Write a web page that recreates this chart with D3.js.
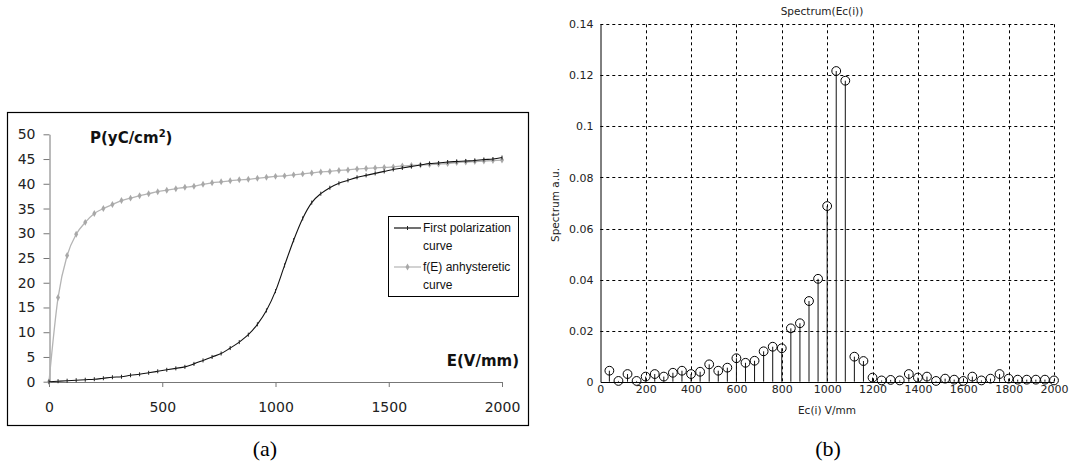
<!DOCTYPE html>
<html>
<head>
<meta charset="utf-8">
<script src="https://cdn.jsdelivr.net/npm/d3@7"></script>
<style>
  html, body { margin: 0; padding: 0; background: #fff; }
  svg { display: block; }
</style>
</head>
<body>
<svg id="chart" width="1070" height="475"></svg>
<script>
// ---------- Data: panel (a) ----------
const fieldE = [0,40,80,120,160,200,240,280,320,360,400,440,480,520,560,600,640,680,720,760,800,840,880,920,960,1000,1040,1080,1120,1160,1200,1240,1280,1320,1360,1400,1440,1480,1520,1560,1600,1640,1680,1720,1760,1800,1840,1880,1920,1960,2000];
const firstPolarization = [0,0.1,0.2,0.3,0.4,0.5,0.7,0.9,1.0,1.3,1.5,1.8,2.1,2.4,2.7,3.0,3.6,4.3,5.0,5.7,6.8,8.0,9.5,11.6,14.4,18.3,23.5,28.6,33.0,36.2,38.0,39.2,40.1,40.7,41.3,41.7,42.1,42.5,42.9,43.2,43.5,43.8,44.1,44.2,44.4,44.5,44.6,44.7,44.9,45.0,45.3];
const anhysteretic = [0,17.0,25.5,29.8,32.2,34.0,35.0,35.8,36.6,37.1,37.6,38.0,38.4,38.7,39.0,39.3,39.5,39.9,40.2,40.4,40.6,40.8,40.9,41.1,41.3,41.5,41.6,41.8,42.0,42.2,42.4,42.5,42.7,42.8,43.0,43.1,43.2,43.3,43.4,43.6,43.7,43.8,43.9,44.0,44.1,44.3,44.4,44.5,44.6,44.7,44.8];
const aXTicks = [0,500,1000,1500,2000];
const aYTicks = [0,5,10,15,20,25,30,35,40,45,50];
const legendLabels = [["First polarization","curve"],["f(E) anhysteretic","curve"]];

// ---------- Data: panel (b) ----------
const ecValues = [40,80,120,160,200,240,280,320,360,400,440,480,520,560,600,640,680,720,760,800,840,880,920,960,1000,1040,1080,1120,1160,1200,1240,1280,1320,1360,1400,1440,1480,1520,1560,1600,1640,1680,1720,1760,1800,1840,1880,1920,1960,2000];
const spectrum = [0.0043,0.0003,0.003,0.0003,0.002,0.003,0.002,0.0035,0.0043,0.003,0.0039,0.0068,0.0043,0.0055,0.0092,0.0074,0.0082,0.0119,0.0137,0.0131,0.0209,0.0229,0.0316,0.0403,0.0688,0.1217,0.1179,0.0098,0.0081,0.0016,0.0005,0.0007,0.0005,0.003,0.0016,0.002,0.0003,0.0012,0.0008,0.0003,0.002,0.0005,0.0012,0.003,0.0012,0.0008,0.0008,0.0008,0.0008,0.0005];
const bXTicks = [0,200,400,600,800,1000,1200,1400,1600,1800,2000];
const bYTicks = [0,0.02,0.04,0.06,0.08,0.1,0.12,0.14];

const svg = d3.select("#chart");

// ================= Panel (a) =================
const gA = svg.append("g");
gA.append("rect").attr("x", 7.5).attr("y", 112.5).attr("width", 521).attr("height", 313)
  .attr("fill", "#fff").attr("stroke", "#000").attr("stroke-width", 1.2);

const xA = d3.scaleLinear().domain([0, 2000]).range([49, 502]);
const yA = d3.scaleLinear().domain([0, 50]).range([381.7, 134.3]);

const axA_y = gA.append("g").attr("transform", "translate(49.5,0)")
  .call(d3.axisLeft(yA).tickValues(aYTicks).tickSize(6).tickSizeOuter(0).tickPadding(8).tickFormat(d3.format("d")));
const axA_x = gA.append("g").attr("transform", "translate(0,382)")
  .call(d3.axisBottom(xA).tickValues(aXTicks).tickSize(5).tickSizeOuter(0).tickPadding(15).tickFormat(d3.format("d")));
[axA_y, axA_x].forEach(ax => {
  ax.select(".domain").attr("stroke", "#777");
  ax.selectAll(".tick line").attr("stroke", "#777");
  ax.selectAll("text").attr("font-family", "DejaVu Sans").attr("font-size", 14).attr("fill", "#222");
});

const lineA = d3.line().x((d, i) => xA(fieldE[i])).y(d => yA(d)).curve(d3.curveMonotoneX);

// anhysteretic (grey)
gA.append("path").datum(anhysteretic).attr("d", lineA)
  .attr("fill", "none").attr("stroke", "#b4b4b4").attr("stroke-width", 1.3);
gA.selectAll(".dia").data(anhysteretic).join("path").attr("class", "dia")
  .attr("d", d3.symbol(d3.symbolDiamond, 14))
  .attr("transform", (d, i) => `translate(${xA(fieldE[i])},${yA(d)})`)
  .attr("fill", "#a8a8a8");

// first polarization (black)
gA.append("path").datum(firstPolarization).attr("d", lineA)
  .attr("fill", "none").attr("stroke", "#111").attr("stroke-width", 1.1);
gA.selectAll(".tk").data(firstPolarization).join("line").attr("class", "tk")
  .attr("x1", (d, i) => xA(fieldE[i])).attr("x2", (d, i) => xA(fieldE[i]))
  .attr("y1", d => yA(d) - 2).attr("y2", d => yA(d) + 2)
  .attr("stroke", "#222").attr("stroke-width", 1);

// axis titles
const ptitle = gA.append("text").attr("x", 90).attr("y", 143)
  .attr("font-family", "DejaVu Sans").attr("font-weight", "bold").attr("font-size", 15).attr("fill", "#111");
ptitle.append("tspan").text("P(yC/cm");
ptitle.append("tspan").attr("font-size", 10).attr("dy", -6).text("2");
ptitle.append("tspan").attr("dy", 6).text(")");
gA.append("text").attr("x", 519).attr("y", 366).attr("text-anchor", "end")
  .attr("font-family", "DejaVu Sans").attr("font-weight", "bold").attr("font-size", 15).attr("fill", "#111")
  .text("E(V/mm)");

// legend
const lg = gA.append("g");
lg.append("rect").attr("x", 388.5).attr("y", 216.5).attr("width", 130).attr("height", 80)
  .attr("fill", "#fff").attr("stroke", "#000").attr("stroke-width", 1);
const legendColors = ["#111", "#b4b4b4"];
const legendY = [228, 267];
legendLabels.forEach((lab, i) => {
  lg.append("line").attr("x1", 394).attr("x2", 421).attr("y1", legendY[i]).attr("y2", legendY[i])
    .attr("stroke", legendColors[i]).attr("stroke-width", 1.2);
  if (i === 0) {
    lg.append("line").attr("x1", 407.5).attr("x2", 407.5).attr("y1", legendY[i] - 2).attr("y2", legendY[i] + 2)
      .attr("stroke", "#222");
  } else {
    lg.append("path").attr("d", d3.symbol(d3.symbolDiamond, 14)).attr("transform", `translate(407.5,${legendY[i]})`)
      .attr("fill", "#a8a8a8");
  }
  lab.forEach((t, j) => {
    lg.append("text").attr("x", 423).attr("y", legendY[i] + j * 18).attr("dy", "0.35em")
      .attr("font-family", "Liberation Sans").attr("font-size", 12).attr("fill", "#111").text(t);
  });
});

// caption (a)
svg.append("text").attr("x", 265).attr("y", 448).attr("dy", "0.35em").attr("text-anchor", "middle")
  .attr("font-family", "Liberation Serif").attr("font-size", 22).attr("fill", "#000").text("(a)");

// ================= Panel (b) =================
const gB = svg.append("g");
const xB = d3.scaleLinear().domain([0, 2000]).range([600.3, 1054]);
const yB = d3.scaleLinear().domain([0, 0.14]).range([381.7, 24.3]);

// grid
gB.selectAll(".vg").data(bXTicks.filter(d => d > 0)).join("line").attr("class", "vg")
  .attr("x1", d => Math.round(xB(d)) + 0.5).attr("x2", d => Math.round(xB(d)) + 0.5)
  .attr("y1", yB(0.14)).attr("y2", yB(0))
  .attr("stroke", "#000").attr("stroke-width", 1).attr("stroke-dasharray", "3,3");
gB.selectAll(".hg").data(bYTicks.filter(d => d > 0)).join("line").attr("class", "hg")
  .attr("x1", xB(0)).attr("x2", xB(2000))
  .attr("y1", d => Math.round(yB(d)) + 0.5).attr("y2", d => Math.round(yB(d)) + 0.5)
  .attr("stroke", "#000").attr("stroke-width", 1).attr("stroke-dasharray", "3,3");

const axB_y = gB.append("g").attr("transform", "translate(600.5,0)")
  .call(d3.axisLeft(yB).tickValues(bYTicks).tickSize(0).tickPadding(7).tickFormat(d => d3.format("~g")(d)));
const axB_x = gB.append("g").attr("transform", "translate(0,382)")
  .call(d3.axisBottom(xB).tickValues(bXTicks).tickSize(0).tickPadding(3).tickFormat(d3.format("d")));
[axB_y, axB_x].forEach(ax => {
  ax.select(".domain").attr("stroke", "#000");
  ax.selectAll("text").attr("font-family", "DejaVu Sans").attr("font-size", 11).attr("fill", "#222");
});

// stems
gB.selectAll(".stem").data(spectrum).join("line").attr("class", "stem")
  .attr("x1", (d, i) => xB(ecValues[i])).attr("x2", (d, i) => xB(ecValues[i]))
  .attr("y1", yB(0)).attr("y2", d => yB(d))
  .attr("stroke", "#111").attr("stroke-width", 1);
gB.selectAll(".mk").data(spectrum).join("circle").attr("class", "mk")
  .attr("cx", (d, i) => xB(ecValues[i])).attr("cy", d => yB(d)).attr("r", 4.4)
  .attr("fill", "none").attr("stroke", "#000").attr("stroke-width", 1);

// titles
gB.append("text").attr("x", 822).attr("y", 11).attr("dy", "0.35em").attr("text-anchor", "middle")
  .attr("font-family", "DejaVu Sans").attr("font-size", 10.5).attr("fill", "#222").text("Spectrum(Ec(i))");
gB.append("text").attr("x", 827).attr("y", 410).attr("dy", "0.35em").attr("text-anchor", "middle")
  .attr("font-family", "DejaVu Sans").attr("font-size", 10.5).attr("fill", "#222").text("Ec(i) V/mm");
gB.append("text").attr("transform", "translate(555,205) rotate(-90)").attr("dy", "0.35em").attr("text-anchor", "middle")
  .attr("font-family", "DejaVu Sans").attr("font-size", 10.5).attr("fill", "#222").text("Spectrum a.u.");

// caption (b)
svg.append("text").attr("x", 828).attr("y", 448).attr("dy", "0.35em").attr("text-anchor", "middle")
  .attr("font-family", "Liberation Serif").attr("font-size", 22).attr("fill", "#000").text("(b)");
</script>
</body>
</html>
